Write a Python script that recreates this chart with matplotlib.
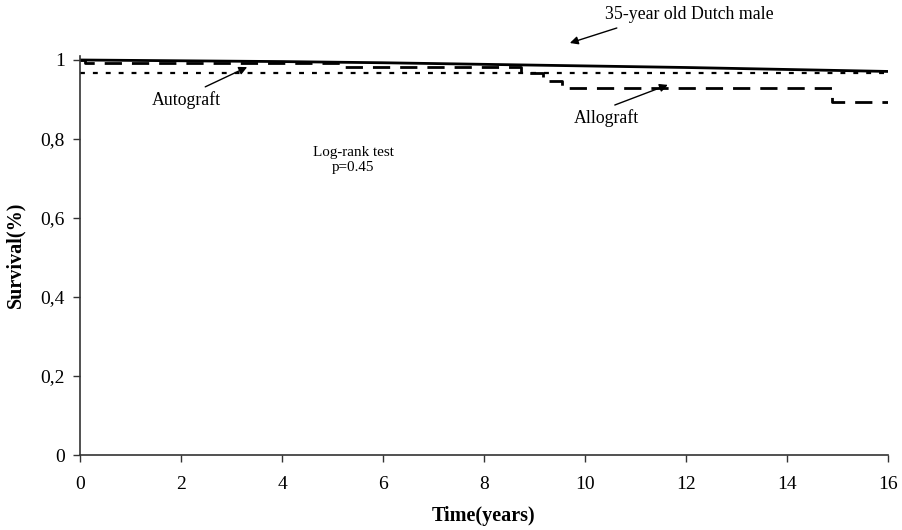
import matplotlib
matplotlib.use('Agg')
import matplotlib.pyplot as plt

plt.rcParams['font.family'] = 'Liberation Serif'

# 35-year old Dutch male, expected survival
dutch_years = [0, 2, 4, 6, 8, 10, 12, 14, 16]
dutch_surv = [1.0, 0.998, 0.996, 0.993, 0.989, 0.985, 0.981, 0.976, 0.971]

# Allograft Kaplan-Meier steps
allo_years = [0, 0.1, 5.2, 8.73, 9.17, 9.54, 14.9, 16]
allo_surv = [1.0, 0.992, 0.981, 0.966, 0.947, 0.930, 0.894, 0.894]

# Autograft Kaplan-Meier steps
auto_years = [0, 16]
auto_surv = [0.968, 0.968]

yticks = [0, 0.2, 0.4, 0.6, 0.8, 1.0]
ytick_labels = ['0', '0,2', '0,4', '0,6', '0,8', '1']
xticks = [0, 2, 4, 6, 8, 10, 12, 14, 16]

fig = plt.figure(figsize=(9.02, 5.3), dpi=100)
ax = fig.add_axes([80/902, 75/530, 808/902, 399/530])

ax.plot(dutch_years, dutch_surv, color='black', lw=2, solid_capstyle='butt')
ax.plot(allo_years, allo_surv, color='black', lw=2, drawstyle='steps-post',
        dashes=(6.2, 3.6))
ax.plot(auto_years, auto_surv, color='black', lw=1.6, dashes=(2.2, 3.6))

ax.set_xlim(0, 16)
ax.set_ylim(0, 1.0101)
ax.set_xticks(xticks)
ax.set_xticklabels([str(x) for x in xticks], fontsize=14)
ax.set_yticks(yticks)
ax.set_yticklabels(ytick_labels, fontsize=14)
ax.tick_params(direction='out', length=5, width=1, color='#333333')
ax.tick_params(axis='x', pad=10)
ax.tick_params(axis='y', pad=6)

for side in ['top', 'right']:
    ax.spines[side].set_visible(False)
for side in ['left', 'bottom']:
    ax.spines[side].set_color('#333333')
    ax.spines[side].set_linewidth(1.2)

ax.set_xlabel('Time(years)', fontsize=14.5, fontweight='bold')
ax.set_ylabel('Survival(%)', fontsize=14.5, fontweight='bold')
ax.xaxis.set_label_coords(0.4994, -0.128)
ax.yaxis.set_label_coords(-0.068, 0.501)

arrow = dict(arrowstyle='-|>', color='black', lw=1, mutation_scale=12,
             shrinkA=0, shrinkB=0)

ax.annotate('', xy=(3.31, 0.982), xytext=(2.48, 0.932), arrowprops=arrow)
ax.text(2.10, 0.899, 'Autograft', fontsize=12.75, ha='center', va='center')

ax.annotate('', xy=(11.64, 0.937), xytext=(10.59, 0.886), arrowprops=arrow)
ax.text(10.42, 0.853, 'Allograft', fontsize=12.75, ha='center', va='center')

ax.annotate('', xy=(9.70, 1.043), xytext=(10.63, 1.081), arrowprops=arrow,
            annotation_clip=False)
ax.text(12.06, 1.114, '35-year old Dutch male', fontsize=12.75, ha='center',
        va='center', clip_on=False)

ax.text(5.41, 0.765, 'Log-rank test', fontsize=10.9, ha='center', va='center')
ax.text(5.41, 0.729, 'p=0.45', fontsize=10.9, ha='center', va='center')

fig.savefig('out.png', dpi=100)
